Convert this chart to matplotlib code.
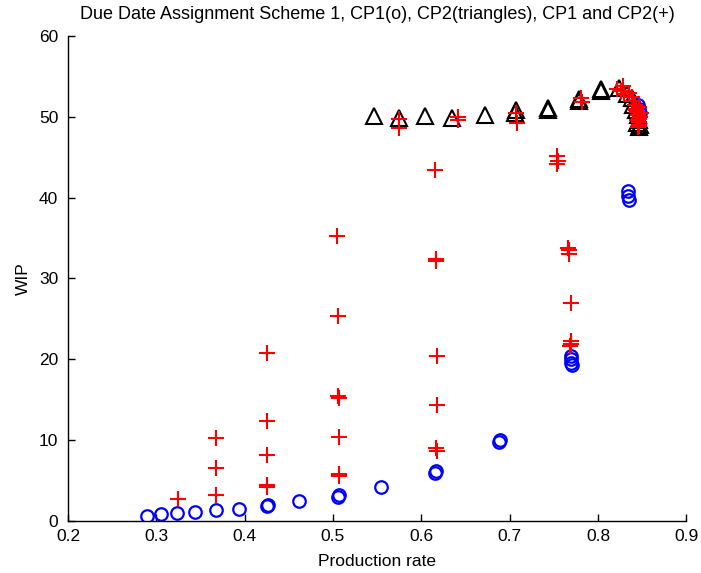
import matplotlib
matplotlib.use("Agg")
import matplotlib.pyplot as plt

# CP1 (blue circles)
cp1_x = [0.289, 0.305, 0.3235, 0.344, 0.368, 0.394, 0.425, 0.426, 0.462, 0.506, 0.507,
         0.554, 0.616, 0.617, 0.688, 0.689,
         0.769, 0.770, 0.770, 0.771,
         0.834, 0.834, 0.835,
         0.845, 0.847, 0.848, 0.846]
cp1_y = [0.6, 0.8, 0.95, 1.1, 1.3, 1.5, 1.8, 2.0, 2.5, 3.0, 3.2,
         4.2, 5.9, 6.2, 9.7, 10.0,
         20.4, 20.0, 19.6, 19.3,
         40.8, 40.2, 39.7,
         51.5, 51.0, 50.5, 50.0]

# CP2 (black triangles)
cp2_x = [0.547, 0.575, 0.604, 0.635, 0.672, 0.706, 0.707, 0.743, 0.744, 0.778, 0.779,
         0.803, 0.804, 0.824, 0.833, 0.838, 0.840, 0.843, 0.845, 0.847, 0.848, 0.846, 0.844]
cp2_y = [50.1, 49.9, 50.1, 49.9, 50.2, 50.5, 50.8, 50.8, 51.1, 52.0, 52.2,
         53.2, 53.4, 53.6, 52.8, 52.3, 51.5, 50.8, 50.2, 49.6, 49.0, 48.8, 49.3]

# CP1 and CP2 (red plus)
both_x = [0.325,
          0.368, 0.368, 0.368,
          0.425, 0.425, 0.425, 0.425, 0.425,
          0.505, 0.506, 0.506, 0.507, 0.507, 0.507, 0.507,
          0.575, 0.575,
          0.616, 0.617, 0.617, 0.618, 0.618, 0.617, 0.618,
          0.641, 0.642,
          0.707, 0.708,
          0.754, 0.755, 0.754,
          0.766, 0.767, 0.767, 0.769, 0.769, 0.770, 0.768,
          0.781, 0.782,
          0.822, 0.826, 0.828, 0.830,
          0.835, 0.838, 0.840, 0.842, 0.843, 0.844, 0.845, 0.846, 0.846, 0.847, 0.845,
          0.848, 0.849, 0.844, 0.843, 0.847, 0.846]
both_y = [2.7,
          10.2, 6.6, 3.2,
          20.8, 12.3, 8.2, 4.4, 4.2,
          35.2, 25.4, 15.4, 15.2, 10.4, 5.8, 5.6,
          49.7, 48.6,
          43.4, 32.4, 32.2, 20.4, 14.4, 9.0, 8.7,
          49.6, 50.0,
          50.5, 49.3,
          45.1, 44.6, 44.2,
          33.8, 33.5, 33.0, 27.0, 22.2, 21.9, 21.6,
          52.3, 51.8,
          53.5, 53.2, 53.8, 52.8,
          53.0, 52.5, 52.0, 51.5, 51.0, 50.6, 50.2, 49.8, 49.4, 49.0, 48.7,
          50.0, 50.5, 49.6, 50.8, 48.9, 51.2]

x_ticks = [0.2, 0.3, 0.4, 0.5, 0.6, 0.7, 0.8, 0.9]
x_ticklabels = ["0.2", "0.3", "0.4", "0.5", "0.6", "0.7", "0.8", "0.9"]
y_ticks = [0, 10, 20, 30, 40, 50, 60]
y_ticklabels = ["0", "10", "20", "30", "40", "50", "60"]

plt.rcParams['font.family'] = ['Liberation Sans', 'DejaVu Sans']

fig = plt.figure(figsize=(7.01, 5.73), dpi=100)
ax = fig.add_axes([0.097, 0.091, 0.882, 0.846])

ax.plot(cp1_x, cp1_y, linestyle='none', marker='o', markersize=9,
        markerfacecolor='none', markeredgecolor='#0000ff', markeredgewidth=1.6)
ax.plot(cp2_x, cp2_y, linestyle='none', marker='^', markersize=11,
        markerfacecolor='none', markeredgecolor='black', markeredgewidth=1.5)
ax.plot(both_x, both_y, linestyle='none', marker='+', markersize=11,
        markeredgecolor='#ff0000', markeredgewidth=1.5)

ax.set_xlim(0.2, 0.9)
ax.set_ylim(0, 60)
ax.set_xticks(x_ticks)
ax.set_xticklabels(x_ticklabels)
ax.set_yticks(y_ticks)
ax.set_yticklabels(y_ticklabels)
ax.tick_params(axis='x', direction='in', length=5, width=1, labelsize=12.5, pad=6, top=False)
ax.tick_params(axis='y', direction='in', length=5, width=1, labelsize=12.5, pad=7, right=False)
ax.spines['top'].set_visible(False)
ax.spines['right'].set_visible(False)
ax.spines['left'].set_linewidth(1)
ax.spines['bottom'].set_linewidth(1)

ax.set_xlabel("Production rate", fontsize=12.5, labelpad=7)
ax.set_ylabel("WIP", fontsize=12.5, labelpad=6)
ax.set_title("Due Date Assignment Scheme 1, CP1(o), CP2(triangles), CP1 and CP2(+)",
             fontsize=13, pad=12)

fig.savefig("out.png", dpi=100)
